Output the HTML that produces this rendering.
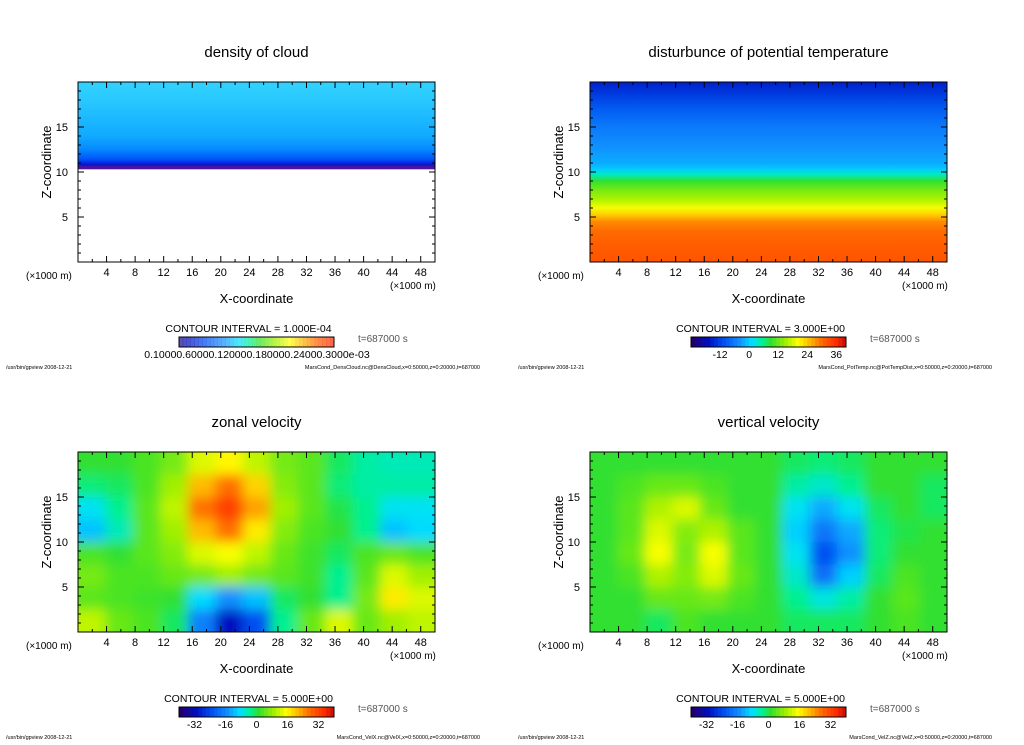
<!DOCTYPE html>
<html><head><meta charset="utf-8"><style>
body{margin:0;background:#fff;width:1024px;height:740px;overflow:hidden;font-family:"Liberation Sans",sans-serif}
svg text{font-family:"Liberation Sans",sans-serif}
</style></head><body>
<svg id="s" width="1024" height="740" xmlns="http://www.w3.org/2000/svg">
<defs>
<filter id="bl" x="-10%" y="-10%" width="120%" height="120%"><feGaussianBlur stdDeviation="6"/></filter>
</defs>
</svg>
<script>
// ---- data ----
const xTicks=[4,8,12,16,20,24,28,32,36,40,44,48];
const zTicks=[5,10,15];
const cloudZ=[20,18,16,14,12.5,11.5,11,10.8,10.6,10.3];
const cloudVal=[0.40,0.38,0.35,0.32,0.28,0.22,0.15,0.10,0.02,0.02];
const tempZ=[20,19,17,15,13,11,10.3,9.7,9,8,7,6,5.2,4.5,3.5,2,0];
const tempVal=[-16,-14,-10,-7,-5,-3,-1,3,8,12,15,19,23,27,29,30,31];
const zonal=[
[0,0,2,5,12,15,10,5,3,-2,-5,-6,-6],
[-3,-2,2,8,20,26,18,6,3,-3,-5,-5,-5],
[-9,-4,3,10,26,32,22,8,3,-1,-4,-9,-9],
[-12,-6,3,8,20,26,16,6,2,0,-4,-12,-10],
[2,0,3,6,12,14,10,4,1,-2,2,4,2],
[5,2,2,4,5,8,5,3,1,-4,3,12,8],
[3,2,1,0,-10,-16,-12,-2,0,-4,5,16,12],
[10,4,2,-2,-18,-32,-24,-4,4,12,4,8,10]];
const vert=[
[0,0,0,0,0,0,0,-2,-3,-2,0,0,0],
[0,2,4,4,2,0,0,-5,-7,-4,0,0,-2],
[0,3,9,12,4,0,0,-9,-14,-9,-2,0,-2],
[0,3,12,6,9,3,0,-11,-19,-14,-3,-1,0],
[0,4,14,5,14,3,0,-9,-24,-16,-3,0,0],
[0,2,9,6,12,4,0,-7,-20,-11,-2,2,0],
[0,0,4,4,5,2,0,-4,-8,-5,0,3,0],
[0,0,-2,2,0,0,0,-2,-2,-2,0,2,0]];
const velLabels=[-32,-16,0,16,32];
const tempLabels=[-12,0,12,24,36];
// ---- helpers ----
const NS="http://www.w3.org/2000/svg",S=document.getElementById('s');
function mk(t,a,p){const e=document.createElementNS(NS,t);for(const k in a)e.setAttribute(k,a[k]);(p||S).appendChild(e);return e;}
const stops=[[0,[32,0,112]],[0.1,[0,16,192]],[0.2,[0,80,240]],[0.3,[16,144,255]],[0.38,[0,224,255]],[0.45,[0,240,144]],[0.5,[48,224,48]],[0.6,[160,240,0]],[0.68,[255,255,0]],[0.76,[255,176,0]],[0.84,[255,96,0]],[0.92,[255,48,0]],[1,[192,0,0]]];
function cmap(t){t=Math.max(0,Math.min(1,t));for(let i=1;i<stops.length;i++){if(t<=stops[i][0]){const a=stops[i-1],b=stops[i],f=(t-a[0])/(b[0]-a[0]);return 'rgb('+a[1].map((v,j)=>Math.round(v+(b[1][j]-v)*f)).join(',')+')';}}return 'rgb(192,0,0)';}
const cstops=[[0,[112,32,160]],[0.05,[16,0,160]],[0.15,[0,40,230]],[0.25,[0,110,255]],[0.32,[16,170,255]],[0.4,[50,210,255]]];
function ccmap(t){for(let i=1;i<cstops.length;i++){if(t<=cstops[i][0]){const a=cstops[i-1],b=cstops[i],f=(t-a[0])/(b[0]-a[0]);return 'rgb('+a[1].map((v,j)=>Math.round(v+(b[1][j]-v)*f)).join(',')+')';}}return 'rgb(50,210,255)';}
const W=357,H=180;
const panels=[
{n:'cloud',x0:78,y0:82,title:'density of cloud',ci:'CONTOUR INTERVAL = 1.000E-04',foot:'MarsCond_DensCloud.nc@DensCloud,x=0:50000,z=0:20000,t=687000'},
{n:'temp',x0:590,y0:82,title:'disturbunce of potential temperature',ci:'CONTOUR INTERVAL = 3.000E+00',foot:'MarsCond_PotTemp.nc@PotTempDist,x=0:50000,z=0:20000,t=687000'},
{n:'zonal',x0:78,y0:452,title:'zonal velocity',ci:'CONTOUR INTERVAL = 5.000E+00',foot:'MarsCond_VelX.nc@VelX,x=0:50000,z=0:20000,t=687000'},
{n:'vertical',x0:590,y0:452,title:'vertical velocity',ci:'CONTOUR INTERVAL = 5.000E+00',foot:'MarsCond_VelZ.nc@VelZ,x=0:50000,z=0:20000,t=687000'}];
panels.forEach((p,pi)=>{
  const X=v=>p.x0+v/50*W, Z=v=>p.y0+H-v/20*H;
  const g=mk('g',{});
  
  
  const cp=mk('clipPath',{id:'c'+pi},S);mk('rect',{x:p.x0,y:p.y0,width:W,height:H},cp);
  const f=mk('g',{'clip-path':'url(#c'+pi+')'},g);
  
  
  if(p.n==='cloud'){
    const zb=cloudZ[cloudZ.length-1];
    const lg=mk('linearGradient',{id:'gc',x1:0,y1:Z(20),x2:0,y2:Z(zb),gradientUnits:'userSpaceOnUse'},S);
    cloudZ.forEach((z,i)=>mk('stop',{offset:(20-z)/(20-zb),'stop-color':ccmap(cloudVal[i])},lg));
    mk('rect',{x:p.x0,y:p.y0,width:W,height:Z(zb)-p.y0,fill:'url(#gc)'},f);
  } else if(p.n==='temp'){
    const lg=mk('linearGradient',{id:'gt',x1:0,y1:Z(20),x2:0,y2:Z(0),gradientUnits:'userSpaceOnUse'},S);
    tempZ.forEach((z,i)=>mk('stop',{offset:(20-z)/20,'stop-color':cmap((tempVal[i]+24)/64)},lg));
    mk('rect',{x:p.x0,y:p.y0,width:W,height:H,fill:'url(#gt)'},f);
  } else {
    const grid=p.n==='zonal'?zonal:vert;
    const b=mk('g',{filter:'url(#bl)'},f);
    const nr=grid.length,nc=grid[0].length,cw=W/nc,ch=H/nr;
    grid.forEach((row,r)=>row.forEach((v,c)=>{
      let x=p.x0+c*cw,y=p.y0+r*ch,w=cw+1,h=ch+1;
      if(c===0){x-=25;w+=25;} if(c===nc-1)w+=25; if(r===0){y-=25;h+=25;} if(r===nr-1)h+=25;
      const e=mk('rect',{x:x,y:y,width:w,height:h,fill:cmap((v+40)/80)},b);
      
      
    }));
  }
  mk('rect',{x:p.x0,y:p.y0,width:W,height:H,fill:'none',stroke:'#000','stroke-width':1},g);
  for(let v=2;v<50;v+=2){const L=v%4===0?6:3;mk('line',{x1:X(v),x2:X(v),y1:p.y0+H,y2:p.y0+H-L,stroke:'#000'},g);mk('line',{x1:X(v),x2:X(v),y1:p.y0,y2:p.y0+L,stroke:'#000'},g);}
  for(let v=1;v<20;v++){const L=v%5===0?6:3;mk('line',{x1:p.x0,x2:p.x0+L,y1:Z(v),y2:Z(v),stroke:'#000'},g);mk('line',{x1:p.x0+W,x2:p.x0+W-L,y1:Z(v),y2:Z(v),stroke:'#000'},g);}
  xTicks.forEach(v=>{const t=mk('text',{x:X(v),y:p.y0+H+14,'font-size':11,'text-anchor':'middle'},g);t.textContent=v;});
  zTicks.forEach(v=>{const t=mk('text',{x:p.x0-10,y:Z(v)+4,'font-size':11,'text-anchor':'end'},g);t.textContent=v;});
  let t=mk('text',{x:p.x0+W/2,y:p.y0-25,'font-size':15,'text-anchor':'middle'},g);t.textContent=p.title;
  t=mk('text',{x:p.x0-52,y:p.y0+H+17,'font-size':10},g);t.textContent='(×1000 m)';
  t=mk('text',{x:p.x0+W-45,y:p.y0+H+27,'font-size':10},g);t.textContent='(×1000 m)';
  t=mk('text',{x:p.x0+W/2,y:p.y0+H+41,'font-size':13,'text-anchor':'middle'},g);t.textContent='X-coordinate';
  t=mk('text',{x:0,y:0,'font-size':13,'text-anchor':'middle',transform:'translate('+(p.x0-27)+','+(p.y0+H/2-10)+') rotate(-90)'},g);t.textContent='Z-coordinate';
  t=mk('text',{x:p.x0+W/2-8,y:p.y0+H+70,'font-size':10.5,'text-anchor':'middle'},g);t.textContent=p.ci;
  const cb=mk('g',{},g);
  const bx=p.x0+101,by=p.y0+H+75,bw=155,bh=10,n=40;
  for(let i=0;i<n;i++){mk('rect',{x:bx+i*bw/n,y:by,width:bw/n+0.3,height:bh,fill:p.n==='cloud'?cmap(0.05+0.9*i/n):cmap(i/n),opacity:p.n==='cloud'?0.7:1},cb);}
  mk('rect',{x:bx,y:by,width:bw,height:bh,fill:'none',stroke:'#000'},cb);
  if(p.n==='cloud'){t=mk('text',{x:bx+78,y:by+21,'font-size':10.5,'text-anchor':'middle'},cb);t.textContent='0.10000.60000.120000.180000.24000.3000e-03';}
  else{const labs=p.n==='temp'?tempLabels:velLabels;const lo=p.n==='temp'?-24:-40,hi=40;
    labs.forEach(v=>{const tt=mk('text',{x:bx+(v-lo)/(hi-lo)*bw,y:by+21,'font-size':10.5,'text-anchor':'middle'},cb);tt.textContent=v;});}
  t=mk('text',{x:p.x0+280,y:p.y0+H+80,'font-size':10,fill:'#555'},g);t.textContent='t=687000 s';
  t=mk('text',{x:p.x0-72,y:p.y0+H+107,'font-size':5.5},g);t.textContent='/usr/bin/gpview   2008-12-21';
  t=mk('text',{x:p.x0+W+45,y:p.y0+H+107,'font-size':5.5,'text-anchor':'end'},g);t.textContent=p.foot;
});
</script>
</body></html>
